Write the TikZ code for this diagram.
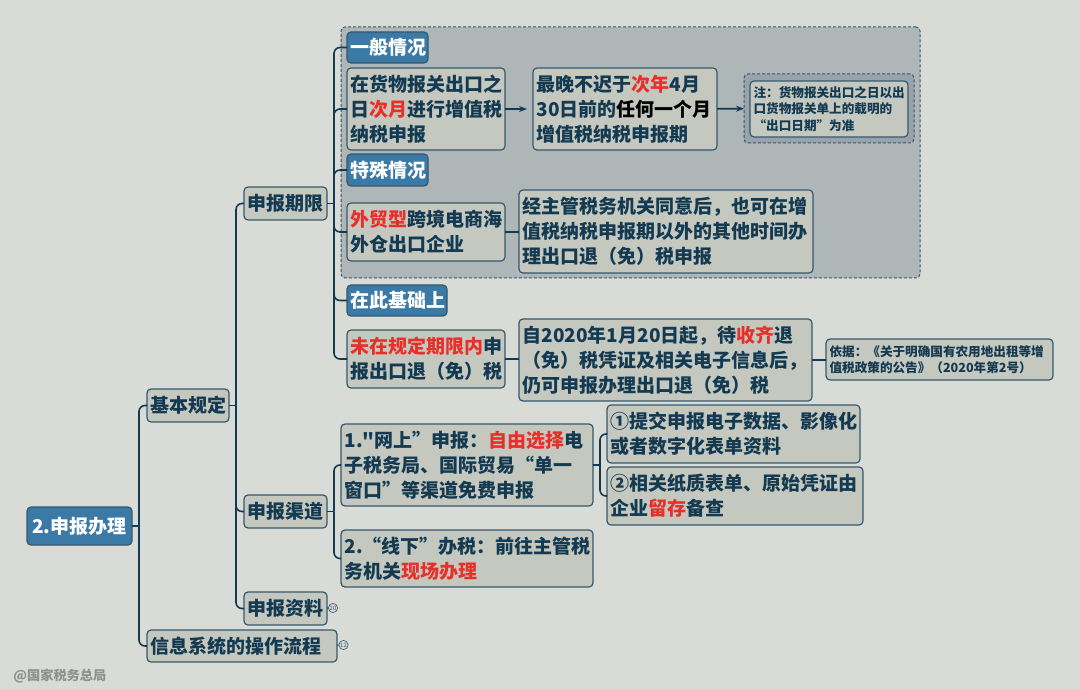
\documentclass[tikz,border=0pt]{standalone}
\usepackage{fontspec}
\setmainfont{Noto Sans CJK SC}
\newfontfamily\rawfont{Noto Sans CJK SC}
\usetikzlibrary{arrows.meta,calc}
\definecolor{paper}{HTML}{D9DBD6}
\definecolor{boxfill}{HTML}{C5C8BF}
\definecolor{boxline}{HTML}{36586E}
\definecolor{ink}{HTML}{143A52}
\definecolor{headblue}{HTML}{3B7AA6}
\definecolor{hotred}{HTML}{E8302A}
\definecolor{groupfill}{HTML}{AEB6B7}
\definecolor{wrapfill}{HTML}{98A3AC}
\definecolor{markgrey}{HTML}{8E918D}
\newcommand{\hot}[1]{\textcolor{hotred}{#1}}
\tikzset{
  box/.style 2 args={draw=boxline,fill=boxfill,text=ink,rounded corners=2pt,line width=0.6pt,anchor=north west,outer sep=0pt,inner xsep=1.8pt,inner ysep=0pt,minimum width=#1*0.5pt,minimum height=#2*0.5pt,text width=#1*0.5pt-3.6pt,align=left,font=\bfseries\fontsize{9.5}{12.5}\selectfont},
  head/.style 2 args={box={#1}{#2},fill=headblue,text=white},
  small/.style 2 args={box={#1}{#2},font=\bfseries\fontsize{6.3}{8.3}\selectfont},
  group/.style 2 args={draw=boxline,fill=groupfill,dash pattern=on 1.5pt off 1pt,rounded corners=2pt,line width=0.5pt,anchor=north west,outer sep=0pt,inner sep=0pt,minimum width=#1*0.5pt,minimum height=#2*0.5pt},
  conn/.style={draw=ink,line width=0.8pt,rounded corners=3pt},
  arr/.style={conn,-{Stealth[length=4pt,width=3pt]}},
  badge/.style={shape=circle,draw=boxline,fill=paper,line width=0.3pt,inner sep=0pt,minimum size=4.6pt,text=boxline,font=\fontsize{3}{3}\selectfont}
}
\begin{document}
\begin{tikzpicture}[x=0.5pt,y=-0.5pt]
\useasboundingbox (0,0) rectangle (1080,689);
\fill[paper] (0,0) rectangle (1080,689);
\node (outer) at (341,27) [group={579}{251}] {};
\node (root) at (27,507) [head={105}{38},align=center] {2.申报办理};
\node (basic) at (147,389) [box={82}{33}] {基本规定};
\node (system) at (147,630) [box={190}{32}] {信息系统的操作流程};
\node (period) at (244,187) [box={83}{33}] {申报期限};
\node (channel) at (244,495) [box={83}{33}] {申报渠道};
\node (material) at (244,592) [box={83}{33}] {申报资料};
\node (general) at (347,32) [head={81}{31}] {一般情况};
\node (nextmonth) at (347,68) [box={158}{82}] {在货物报关出口之\\日\hot{次月}进行增值税\\纳税申报};
\node (latest) at (533,68) [box={184}{82}] {最晚不迟于\hot{次年}4月\\30日前的\textcolor{black}{任何一个月}\\增值税纳税申报期};
\node (notewrap) at (744,74) [group={170}{69},fill=wrapfill] {};
\node (note) at (750,81) [small={158}{56}] {注：货物报关出口之日以出\\口货物报关单上的载明的\\“出口日期”为准};
\node (special) at (347,154) [head={81}{32}] {特殊情况};
\node (foreign) at (347,203) [box={158}{58}] {\hot{外贸型}跨境电商海\\外仓出口企业};
\node (approve) at (519,190) [box={294}{83}] {经主管税务机关同意后，也可在增\\值税纳税申报期以外的其他时间办\\理出口退（免）税申报};
\node (further) at (347,285) [head={100}{31}] {在此基础上};
\node (overdue) at (347,330) [box={158}{58}] {\hot{未在规定期限内}申\\报出口退（免）税};
\node (since) at (519,319) [box={293}{82}] {自2020年1月20日起，待\hot{收齐}退\\（免）税凭证及相关电子信息后，\\仍可申报办理出口退（免）税};
\node (basis) at (826,339) [small={227}{41}] {依据：《关于明确国有农用地出租等增\\值税政策的公告》（2020年第2号）};
\node (online) at (341,424) [box={252}{82}] {1.{\rawfont"}网上”申报：\hot{自由选择}电\\子税务局、国际贸易“单一\\窗口”等渠道免费申报};
\node (offline) at (341,530) [box={252}{57}] {2.“线下”办税：前往主管税\\务机关\hot{现场办理}};
\node (upload) at (607,405) [box={253}{58}] {①提交申报电子数据、影像化\\或者数字化表单资料};
\node (keep) at (607,467) [box={256}{58}] {②相关纸质表单、原始凭证由\\企业\hot{留存}备查};
\node (count20) at (333,608) [badge] {20};
\node (count12) at (343.5,645) [badge] {12};
\node (mark) at (13,676) [anchor=west,inner sep=0pt,text=markgrey,font=\bfseries\fontsize{6.6}{8}\selectfont] {@国家税务总局};
\coordinate (rootj) at ($(root.east)+(7,0)$);
\coordinate (basicj) at ($(basic.east)+(7,0)$);
\coordinate (periodj) at ($(period.east)+(7,0)$);
\coordinate (channelj) at ($(channel.east)+(7,0)$);
\coordinate (onlinej) at ($(online.east)+(7,0)$);
\draw[conn] (root) -- (rootj);
\draw[conn] (basic) -- (basicj);
\draw[conn] (period) -- (periodj);
\draw[conn] (channel) -- (channelj);
\draw[conn] (online) -- (onlinej);
\foreach \leaf in {basic,system} \draw[conn] (\leaf.west) -| (rootj);
\foreach \leaf in {period,channel,material} \draw[conn] (\leaf.west) -| (basicj);
\foreach \leaf in {general,nextmonth,special,foreign,further,overdue} \draw[conn] (\leaf.west) -| (periodj);
\foreach \leaf in {online,offline} \draw[conn] (\leaf.west) -| (channelj);
\foreach \leaf in {upload,keep} \draw[conn] (\leaf.west) -| (onlinej);
\draw[arr,shorten >=3pt] (nextmonth) -- (latest);
\draw[arr] (latest) -- (notewrap);
\draw[conn] (foreign) -- (foreign -| approve.west);
\draw[conn] (overdue) -- (overdue -| since.west);
\draw[conn] (since) -- (since -| basis.west);
\draw[conn,line width=0.5pt] (material) -- (count20);
\draw[conn,line width=0.5pt] (system) -- (count12);
\end{tikzpicture}
\end{document}
